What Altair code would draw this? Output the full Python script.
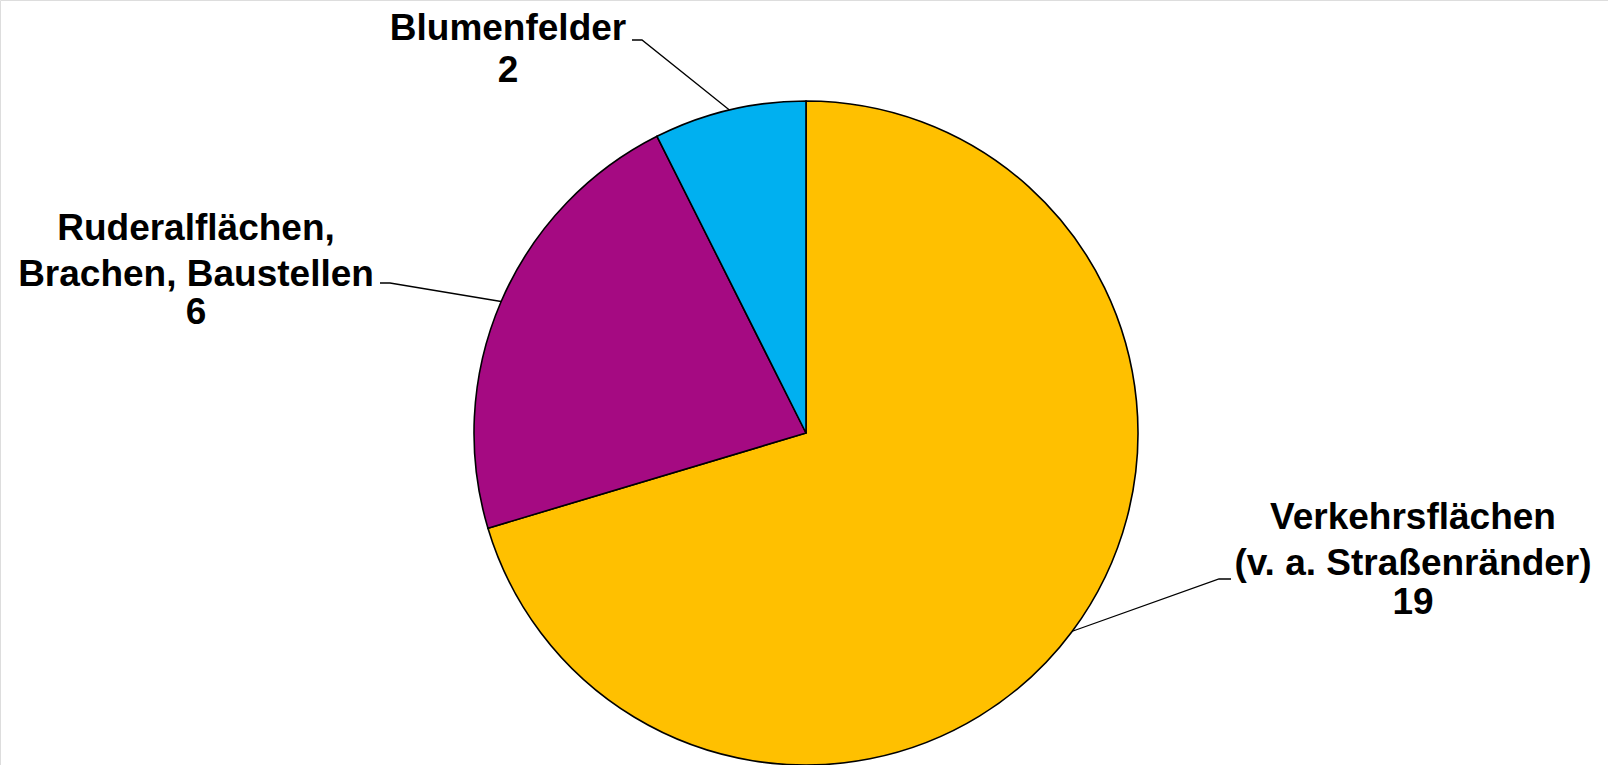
import math
import altair as alt
import pandas as pd

# ---- data ----
categories = ["Verkehrsflächen (v. a. Straßenränder)", "Ruderalflächen, Brachen, Baustellen", "Blumenfelder"]
values = [19, 6, 2]
label_lines = [["Verkehrsflächen", "(v. a. Straßenränder)"], ["Ruderalflächen,", "Brachen, Baustellen"], ["Blumenfelder"]]
colors = ["#FFC000", "#A50A82", "#00B0F0"]

# ---- layout (pixels) ----
W, H = 1608, 765
CX, CY, R = 806, 433, 332
FONT = "Liberation Sans"
FS = 37
# label anchors: centre x, first-line baseline y, value baseline y, elbow start/end x, elbow y
label_layout = {
    categories[0]: dict(x=1413, y=529, vy=614, hx0=1231, hx1=1219, hy=579),
    categories[1]: dict(x=196, y=240, vy=324, hx0=380, hx1=390, hy=283),
    categories[2]: dict(x=508, y=40, vy=82, hx0=632, hx1=642, hy=40),
}

df = pd.DataFrame({"cat": categories, "value": values, "order": range(len(categories))})
total = sum(values)
cum = 0
edge_pts = {}
for c, v in zip(categories, values):
    mid = (cum + v / 2) / total * 2 * math.pi
    edge_pts[c] = (CX + R * math.sin(mid), CY - R * math.cos(mid))
    cum += v

pie = alt.Chart(df).mark_arc(outerRadius=R, stroke="black", strokeWidth=1.6).encode(
    theta=alt.Theta("value:Q", stack=True),
    order=alt.Order("order:Q"),
    color=alt.Color("cat:N", scale=alt.Scale(domain=categories, range=colors), legend=None),
    x=alt.value(CX),
    y=alt.value(CY),
)

rows = []
for c in categories:
    L = label_layout[c]
    ex, ey = edge_pts[c]
    rows += [
        dict(cat=c, i=0, px=L["hx0"], py=L["hy"]),
        dict(cat=c, i=1, px=L["hx1"], py=L["hy"]),
        dict(cat=c, i=2, px=ex, py=ey),
    ]
lead = alt.Chart(pd.DataFrame(rows)).mark_line(color="black", strokeWidth=1.3).encode(
    x=alt.X("px:Q", scale=None, axis=None),
    y=alt.Y("py:Q", scale=None, axis=None),
    detail="cat:N",
    order="i:Q",
)

lab = pd.DataFrame({
    "cat": categories,
    "lines": label_lines,
    "val": [str(v) for v in values],
    "lx": [label_layout[c]["x"] for c in categories],
    "ly": [label_layout[c]["y"] for c in categories],
    "vy": [label_layout[c]["vy"] for c in categories],
})
names = alt.Chart(lab).mark_text(
    font=FONT, fontSize=FS, fontWeight="bold", align="center", baseline="alphabetic",
    lineHeight=46, color="black",
).encode(
    x=alt.X("lx:Q", scale=None, axis=None),
    y=alt.Y("ly:Q", scale=None, axis=None),
    text="lines",
)
nums = alt.Chart(lab).mark_text(
    font=FONT, fontSize=FS, fontWeight="bold", align="center", baseline="alphabetic", color="black",
).encode(
    x=alt.X("lx:Q", scale=None, axis=None),
    y=alt.Y("vy:Q", scale=None, axis=None),
    text="val:N",
)

chart = alt.layer(pie, lead, names, nums).properties(
    width=W, height=H, autosize=alt.AutoSizeParams(type="none"), padding=0,
).configure_view(stroke=None).configure(background="white")

chart.save("out.html", embed_options={"renderer": "svg", "actions": False})
